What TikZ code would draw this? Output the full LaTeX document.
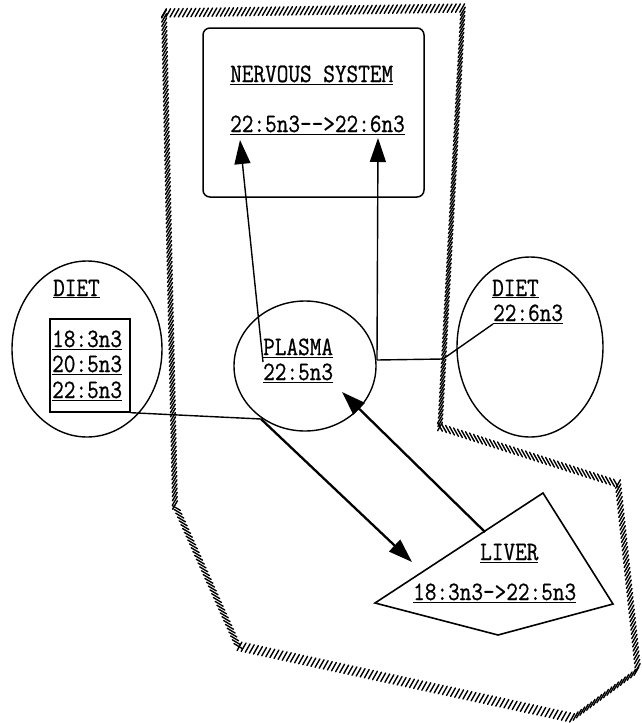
\documentclass[tikz,border=0pt]{standalone}
\usepackage{fontspec}
\setmonofont{Latin Modern Mono}[FakeBold=0.8]
\usetikzlibrary{shapes.geometric,arrows.meta,decorations.markings}
\newcommand{\ulx}[1]{\scalebox{1}[1.17]{\underline{#1}}}
\begin{document}
\begin{tikzpicture}[x=1pt,y=-1pt,
  lbl/.style={inner sep=0pt,anchor=base west,font=\ttfamily\fontsize{22.6}{24}\selectfont},
  ln/.style={line width=1.4pt},
  heavy/.style={line width=2.3pt},
  tip/.style={-{Triangle[length=24pt,width=16pt]}},
  hatchgen/.style n args={4}{decoration={markings,
     mark=between positions 0 and 1 step 4.2pt with {\pgftransformresetnontranslations
       \draw[line width=1.4pt,line cap=round] (#1pt,#2pt)--(#3pt,#4pt);}},decorate},
  hatchp/.style={hatchgen={-2.4}{-4.2}{2.4}{4.2}},
  hatchm/.style={hatchgen={-2.4}{4.2}{2.4}{-4.2}},
  hatchs/.style={hatchgen={-4}{2.4}{4}{-2.4}}
]
\fill[white] (0,0) rectangle (642,723);
\useasboundingbox (0,0) rectangle (642,723);

% hatched boundary
\coordinate (h1) at (164,13);
\coordinate (h2) at (463,8);
\coordinate (h3) at (440,427);
\coordinate (h4) at (618,484);
\coordinate (h5) at (638,670);
\coordinate (h6) at (573,718);
\coordinate (h7) at (238,646);
\coordinate (h8) at (175,505);
\path[hatchp] (h1) -- (h2) -- (h3);
\path[hatchm] (h3) -- (h4);
\path[hatchp] (h4) -- (h5) -- (h6) -- (h7);
\path[hatchs] (h7) -- (h8);
\path[hatchp] (h8) -- (h1);

% nervous system
\node[draw, line width=1.5pt, rounded corners=7pt, minimum width=221pt, minimum height=169pt, inner sep=0pt] (ns) at (313.5,112.5) {};
\node[lbl] (nst) at (230,82) {\ulx{NERVOUS SYSTEM}};
\node[lbl] (nsf) at (230,132) {\ulx{22:5n3-->22:6n3}};

% left diet
\node[ellipse, draw, ln, minimum width=150pt, minimum height=176pt, inner sep=0pt] (dietL) at (87,349) {};
\node[lbl] (dLt) at (53,296) {\ulx{DIET}};
\node[draw, ln, minimum width=80pt, minimum height=93pt, inner sep=0pt] (dbox) at (90,365.5) {};
\node[lbl] (d1) at (52,347) {\ulx{18:3n3}};
\node[lbl] (d2) at (52,372) {\ulx{20:5n3}};
\node[lbl] (d3) at (52,398) {\ulx{22:5n3}};

% plasma
\node[ellipse, draw, ln, minimum width=142pt, minimum height=130pt, inner sep=0pt] (plasma) at (305,366) {};
\node[lbl] (pt) at (263,355) {\ulx{PLASMA}};
\node[lbl] (pf) at (263,380) {\ulx{22:5n3}};

% right diet
\node[ellipse, draw, ln, minimum width=146pt, minimum height=180pt, inner sep=0pt] (dietR) at (530,347) {};
\node[lbl] (dRt) at (492,296) {\ulx{DIET}};
\node[lbl] (dRf) at (493,321) {\ulx{22:6n3}};

% liver
\coordinate (lv1) at (543,493);
\coordinate (lv2) at (613,604);
\coordinate (lv3) at (498,635);
\coordinate (lv4) at (375,603);
\draw[line width=1.6pt, line join=miter] (lv1) -- (lv2) -- (lv3) -- (lv4) -- cycle;
\node[lbl] (lvt) at (480,560) {\ulx{LIVER}};
\node[lbl] (lvf) at (413,600) {\ulx{18:3n3->22:5n3}};

% connector points
\coordinate (pL) at (263,362);
\coordinate (nsL) at (240,140);
\coordinate (pR) at (377,360);
\coordinate (nsR) at (378,138);
\coordinate (bend) at (443,359);
\coordinate (dR) at (493,324);
\coordinate (j) at (261,419);
\coordinate (lvIn) at (412,562);
\coordinate (lvOut) at (485,532);
\coordinate (pIn) at (342,392);

\draw[ln,tip] (pL) -- (nsL);
\draw[ln,tip] (pR) -- (nsR);
\draw[ln] (pR) -- (bend) -- (dR);
\draw[ln] (dbox.south east) -- (j);
\draw[heavy,tip] (j) -- (lvIn);
\draw[heavy,tip] (lvOut) -- (pIn);
\end{tikzpicture}
\end{document}
